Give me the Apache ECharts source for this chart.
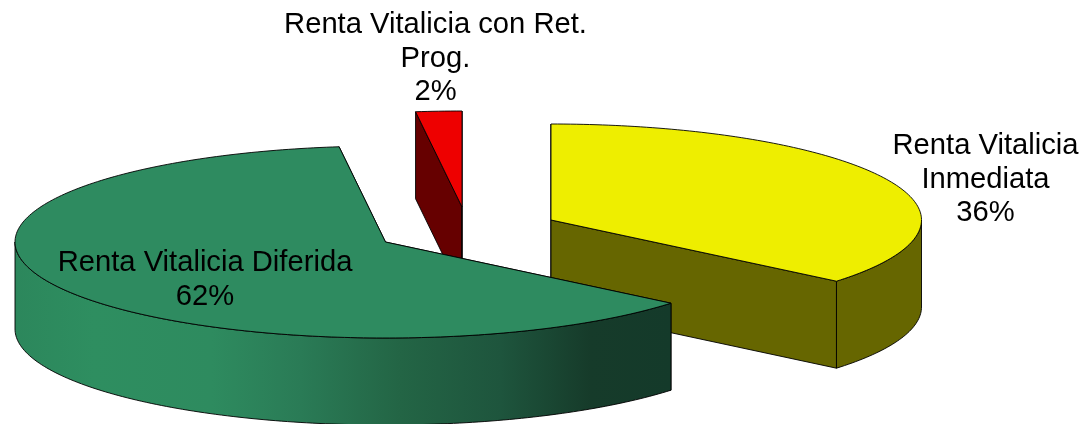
<!DOCTYPE html>
<html>
<head>
<meta charset="utf-8">
<style>html,body{margin:0;padding:0;background:#fff}#c{width:1085px;height:424px}</style>
<script src="https://cdn.jsdelivr.net/npm/echarts@6/dist/echarts.min.js"></script>
</head>
<body>
<div id="c"></div>
<script>
const categories = ['Renta Vitalicia\nInmediata', 'Renta Vitalicia Diferida', 'Renta Vitalicia con Ret.\nProg.'];
const shares = [36, 62, 2];

// Drawing settings, kept apart from the data
const RX = 370.5, RY = 96, DEPTH = 87;
const apexes = [[551, 220], [385.5, 242], [462, 207]];
const labelAnchors = [[985.5, 179.5], [205, 280], [435.5, 58.5]];
const topColors = ['#EEEE00', '#2E8B60', '#EE0000'];
const wallColors = ['#666600', null, '#660000'];
const layers = [2, 3, 1];
const greenWall = {
  type: 'linear', x: 15, y: 0, x2: 671, y2: 0, global: true,
  colorStops: [
    { offset: 0, color: '#2C875C' }, { offset: 0.12, color: '#2E8E60' },
    { offset: 0.3, color: '#2E8B5F' }, { offset: 0.435, color: '#2A7B56' },
    { offset: 0.587, color: '#236545' }, { offset: 0.74, color: '#1E553D' },
    { offset: 0.877, color: '#163B2A' }, { offset: 1, color: '#143A2A' }
  ]
};
const total = shares.reduce((a, b) => a + b, 0);
const starts = shares.map((_, i) => shares.slice(0, i).reduce((a, b) => a + b, 0) / total * 360);

function rim(apex, deg, drop) {
  const t = deg * Math.PI / 180;
  return [apex[0] + RX * Math.sin(t), apex[1] - RY * Math.cos(t) + (drop || 0)];
}
function arc(apex, a, b, drop) {
  const pts = [], n = Math.max(2, Math.ceil(Math.abs(b - a)));
  for (let k = 0; k <= n; k++) pts.push(rim(apex, a + (b - a) * k / n, drop));
  return pts;
}
function poly(points, fill, z2) {
  return {
    type: 'polygon', z2: z2, shape: { points: points },
    style: { fill: fill, stroke: '#000', lineWidth: 0.9, lineJoin: 'round' }
  };
}
function renderSlice(params, api) {
  const i = api.value(2);
  const t0 = starts[i], t1 = t0 + api.value(0) / total * 360;
  const c = apexes[i], base = layers[i] * 10;
  const wall = wallColors[i] || greenWall;
  const kids = [];
  [t0, t1].forEach((t, j) => {
    const e = rim(c, t);
    kids.push(poly([c, e, [e[0], e[1] + DEPTH], [c[0], c[1] + DEPTH]], wall, base + j));
  });
  const from = Math.max(t0, 90), to = Math.min(t1, 270);
  if (to > from) {
    kids.push(poly(arc(c, from, to, 0).concat(arc(c, to, from, DEPTH)), wall, base + 3));
  }
  kids.push(poly([c].concat(arc(c, t0, t1, 0)), topColors[i], base + 4));
  kids.push({
    type: 'text', z2: 100,
    style: {
      x: labelAnchors[i][0], y: labelAnchors[i][1],
      text: categories[i] + '\n' + api.value(0) + '%',
      fill: '#000', align: 'center', verticalAlign: 'middle',
      font: '29.2px "Liberation Sans", Arial, sans-serif', lineHeight: 33.5
    }
  });
  return { type: 'group', children: kids };
}
const chart = echarts.init(document.getElementById('c'), null, { renderer: 'canvas' });
chart.setOption({
  animation: false,
  backgroundColor: '#fff',
  series: [{
    type: 'custom',
    coordinateSystem: 'none',
    renderItem: renderSlice,
    encode: { value: 0 },
    silent: true,
    data: shares.map((v, i) => [v, 0, i])
  }]
});
</script>
</body>
</html>
